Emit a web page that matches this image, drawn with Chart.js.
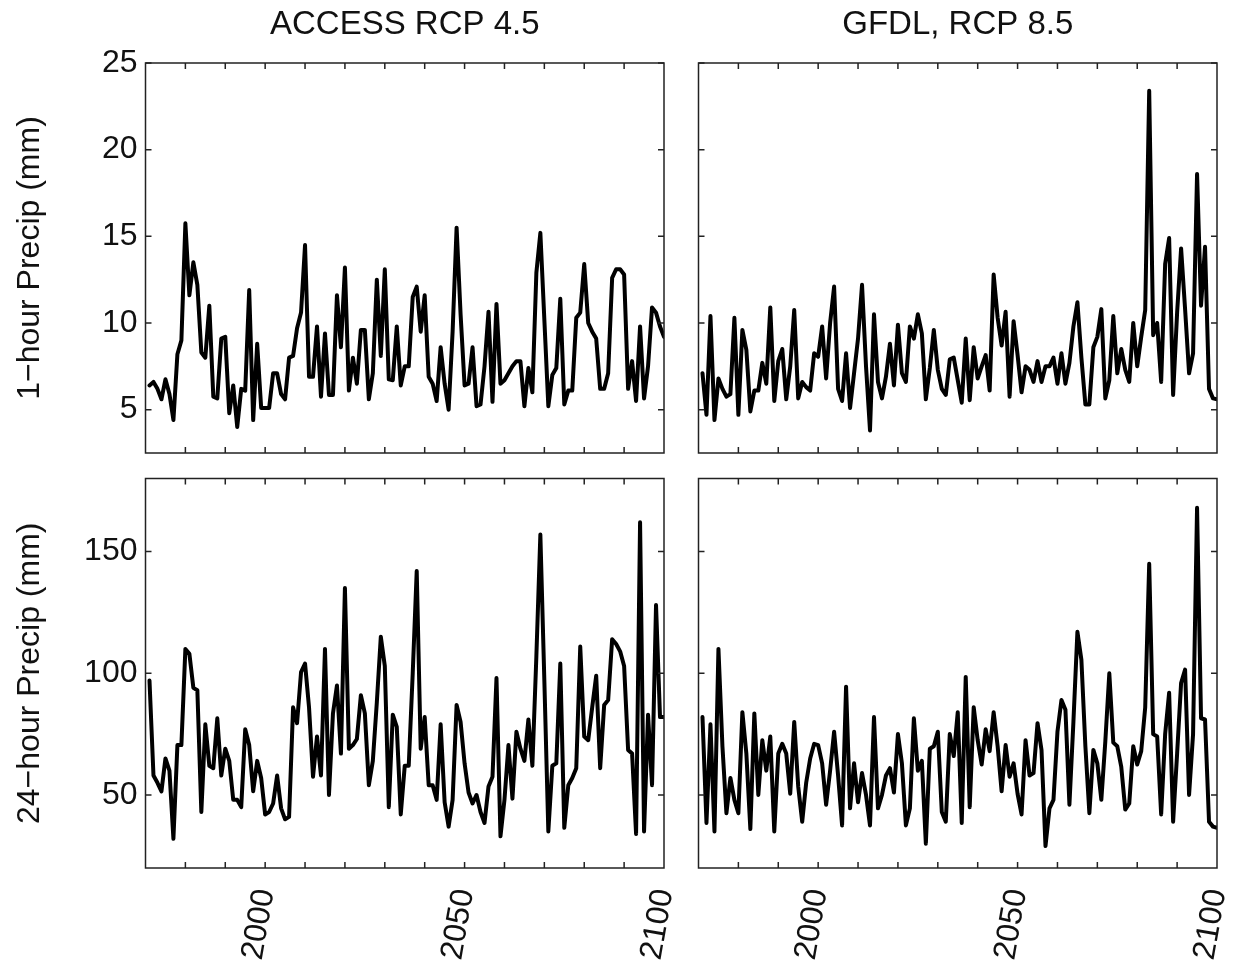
<!DOCTYPE html>
<html>
<head>
<meta charset="utf-8">
<script src="https://cdn.jsdelivr.net/npm/chart.js@4.4.1/dist/chart.umd.min.js"></script>
<style>
html, body { margin: 0; padding: 0; background: #ffffff; }
body { width: 1239px; height: 960px; position: relative; overflow: hidden; }
canvas { position: absolute; }
</style>
</head>
<body>
<canvas id="tl" width="680" height="465" style="left:0px;top:0px"></canvas>
<canvas id="tr" width="559" height="465" style="left:680px;top:0px"></canvas>
<canvas id="bl" width="680" height="495" style="left:0px;top:465px"></canvas>
<canvas id="br" width="559" height="495" style="left:680px;top:465px"></canvas>
<script>
// ---------- data ----------
const years = [
  1971,1972,1973,1974,1975,1976,1977,1978,1979,1980,
  1981,1982,1983,1984,1985,1986,1987,1988,1989,1990,
  1991,1992,1993,1994,1995,1996,1997,1998,1999,2000,
  2001,2002,2003,2004,2005,2006,2007,2008,2009,2010,
  2011,2012,2013,2014,2015,2016,2017,2018,2019,2020,
  2021,2022,2023,2024,2025,2026,2027,2028,2029,2030,
  2031,2032,2033,2034,2035,2036,2037,2038,2039,2040,
  2041,2042,2043,2044,2045,2046,2047,2048,2049,2050,
  2051,2052,2053,2054,2055,2056,2057,2058,2059,2060,
  2061,2062,2063,2064,2065,2066,2067,2068,2069,2070,
  2071,2072,2073,2074,2075,2076,2077,2078,2079,2080,
  2081,2082,2083,2084,2085,2086,2087,2088,2089,2090,
  2091,2092,2093,2094,2095,2096,2097,2098,2099,2100
];

const access1h = [
  6.4,6.6,6.2,5.6,6.75,5.9,4.4,8.2,9.0,15.75,
  11.6,13.5,12.2,8.3,8.0,11.0,5.75,5.65,9.1,9.2,
  4.8,6.4,4.0,6.2,6.1,11.9,4.4,8.8,5.1,5.1,
  5.1,7.1,7.1,5.9,5.6,8.0,8.1,9.7,10.6,14.5,
  6.9,6.9,9.8,5.75,9.4,5.85,5.85,11.6,8.6,13.2,
  6.1,8.0,6.5,9.6,9.6,5.6,7.1,12.5,8.1,13.1,
  6.75,6.7,9.8,6.4,7.5,7.5,11.5,12.1,9.5,11.6,
  6.9,6.5,5.5,8.6,6.5,5.0,9.5,15.5,10.5,6.4,
  6.5,8.6,5.2,5.3,7.5,10.65,5.45,11.1,6.5,6.7,
  7.1,7.5,7.8,7.8,5.2,7.4,6.0,12.9,15.2,10.2,
  5.2,7.0,7.4,11.4,5.3,6.1,6.1,10.3,10.6,13.4,
  10.0,9.5,9.1,6.2,6.2,7.1,12.6,13.1,13.1,12.8,
  6.2,7.8,5.5,9.8,5.65,7.5,10.9,10.6,9.8,9.2
];

const gfdl1h = [
  7.1,4.7,10.4,4.4,6.8,6.2,5.75,5.9,10.3,4.7,
  9.6,8.45,4.9,6.1,6.1,7.7,6.5,10.9,5.5,7.8,
  8.5,5.6,7.5,10.75,5.65,6.6,6.3,6.1,8.25,8.05,
  9.8,6.8,10.0,12.1,6.2,5.5,8.25,5.1,7.1,9.1,
  12.2,7.5,3.8,10.5,6.6,5.65,6.9,8.8,6.4,9.9,
  7.1,6.6,9.8,9.1,10.5,9.4,5.6,7.4,9.6,7.3,
  6.2,5.85,7.9,8.0,6.7,5.4,9.1,5.55,8.6,6.8,
  7.5,8.15,6.1,12.8,10.3,8.7,10.65,5.75,10.1,8.15,
  6.0,7.5,7.3,6.6,7.8,6.6,7.5,7.5,8.0,6.5,
  8.25,6.5,7.7,9.8,11.2,8.0,5.3,5.3,8.6,9.2,
  10.8,5.65,6.7,10.4,7.1,8.5,7.3,6.6,10.0,7.5,
  9.2,10.75,23.4,9.3,10.0,6.6,13.4,14.9,5.85,10.6,
  14.3,10.8,7.1,8.25,18.6,11.0,14.4,6.2,5.65,5.6
];

const access24h = [
  97,58,55,51.5,65,60,32,70.5,70.5,110,
  108,94,93,43,79,62,61,81.5,58,69,
  64,48,48,45,77,70.5,51.5,64,57,42,
  43,46.5,58,44.5,40,41,86,79.5,100.5,104,
  86,57.5,74,58,110,50,83.5,95,67,135,
  69,70.5,73,91,83.5,54,64,88,115,103,
  45,83,78,42,62,62,100,142,69,82,
  54,54,48,79,47,37,48,87,80,63,
  51,46.5,50,43,38.5,53.5,57.5,98,33,48,
  70.5,48.5,76,69,64,81,62,107,157,97,
  35,62,63,104,36.5,54,57,61,111,74,
  72.5,86,99,61,87,89,114,112,109,103,
  68.5,67,34,162,35,83,54,128,82,82
];

const gfdl24h = [
  82,38.5,79,35,110,70,42.5,57,48,42.5,
  84,67,36,83.5,50,72.5,60,74,35,67,
  71,67,50.5,80,53.5,39,55,65,71,70.5,
  63,46,60,76,58,37.5,94.5,44.5,63,47,
  59,50,37.5,82,44.5,50,58,61,51,75,
  63,37.5,44.5,81.5,60,64,30,69,70,76,
  43,39,75,66,84,38.5,98.5,45,86,72.5,
  62.5,77,68,84,70,51.5,70.5,57.5,63,50.5,
  42,72.5,58,59,79.5,68.5,29,44.5,48,76,
  89,85,46,80,117,105.5,70,42.5,68.5,63,
  48,72,100,71.5,70,61.5,44,46.5,70,62.5,
  68,86,145,75,74,42,75,92,39,67,
  96,101.5,50,75,168,81.5,81,39,37,36.5
];

const xLabelTicks = [2000, 2050, 2100];
const xMinorTicks = [1980, 1990, 2000, 2010, 2020, 2030, 2040, 2050, 2060, 2070, 2080, 2090];
const yTicks1h = [5, 10, 15, 20, 25];
const yTicks24h = [50, 100, 150];
const panelTitles = ['ACCESS RCP 4.5', 'GFDL, RCP 8.5'];
const yAxisTitles = ['1\u2212hour Precip (mm)', '24\u2212hour Precip (mm)'];

// ---------- drawing ----------
const FONT = "'Liberation Sans', Arial, Helvetica, sans-serif";
Chart.defaults.font.family = FONT;
Chart.defaults.color = '#111';

const framePlugin = {
  id: 'frame',
  afterDatasetsDraw(chart, args, opts) {
    const { ctx, chartArea: a, scales } = chart;
    const sx = scales.x, sy = scales.y;
    ctx.save();
    ctx.strokeStyle = '#222';
    ctx.lineWidth = 1.5;
    ctx.strokeRect(a.left, a.top, a.right - a.left, a.bottom - a.top);
    ctx.beginPath();
    const L = 6;
    opts.xTicks.forEach(v => {
      const px = sx.getPixelForValue(v);
      ctx.moveTo(px, a.bottom); ctx.lineTo(px, a.bottom - L);
      ctx.moveTo(px, a.top); ctx.lineTo(px, a.top + L);
    });
    opts.yTicks.forEach(v => {
      const py = sy.getPixelForValue(v);
      ctx.moveTo(a.left, py); ctx.lineTo(a.left + L, py);
      ctx.moveTo(a.right, py); ctx.lineTo(a.right - L, py);
    });
    ctx.stroke();
    ctx.restore();
  }
};

function makePanel(id, values, cfg) {
  new Chart(document.getElementById(id), {
    type: 'line',
    data: {
      datasets: [{
        data: years.map((yr, i) => ({ x: yr, y: values[i] })),
        borderColor: '#000',
        borderWidth: 4,
        pointRadius: 0,
        tension: 0,
        borderJoinStyle: 'round',
        borderCapStyle: 'round',
        fill: false
      }]
    },
    options: {
      responsive: false,
      animation: false,
      devicePixelRatio: 1,
      layout: { padding: cfg.padding },
      plugins: {
        legend: { display: false },
        tooltip: { enabled: false },
        title: cfg.title ? {
          display: true,
          text: cfg.title,
          fullSize: false,
          color: '#111',
          font: { family: FONT, size: 33, weight: 'normal' },
          padding: { top: 4.7, bottom: 18.7 }
        } : { display: false },
        frame: { xTicks: xMinorTicks, yTicks: cfg.yTicks }
      },
      scales: {
        x: {
          type: 'linear',
          min: 1970,
          max: 2100,
          grid: { display: false, drawTicks: false },
          border: { display: false },
          afterBuildTicks: s => { s.ticks = xLabelTicks.map(v => ({ value: v })); },
          ticks: {
            display: cfg.xLabels,
            autoSkip: false,
            minRotation: 80,
            maxRotation: 80,
            padding: 18,
            color: '#111',
            font: { family: FONT, size: 32 },
            callback: v => String(v)
          },
          afterFit: s => { s.height = cfg.xHeight; s.paddingLeft = 0; s.paddingRight = 0; }
        },
        y: {
          type: 'linear',
          min: cfg.yMin,
          max: cfg.yMax,
          grid: { display: false, drawTicks: false },
          border: { display: false },
          afterBuildTicks: s => { s.ticks = cfg.yTicks.map(v => ({ value: v })); },
          ticks: {
            display: cfg.yLabels,
            padding: 8,
            color: '#111',
            font: { family: FONT, size: 32 },
            callback: v => String(v)
          },
          title: {
            display: !!cfg.yTitle,
            text: cfg.yTitle || '',
            color: '#111',
            font: { family: FONT, size: 32 },
            padding: { top: 11, bottom: 0 }
          },
          afterFit: s => { s.width = cfg.yWidth; s.paddingTop = 0; s.paddingBottom = 0; }
        }
      }
    },
    plugins: [framePlugin]
  });
}

makePanel('tl', access1h, {
  title: panelTitles[0], yTitle: yAxisTitles[0], yLabels: true, xLabels: false,
  yMin: 2.5, yMax: 25, yTicks: yTicks1h, yWidth: 145.5, xHeight: 12,
  padding: { left: 0, right: 16, top: 0, bottom: 0 }
});
makePanel('tr', gfdl1h, {
  title: panelTitles[1], yTitle: null, yLabels: false, xLabels: false,
  yMin: 2.5, yMax: 25, yTicks: yTicks1h, yWidth: 18.5, xHeight: 12,
  padding: { left: 0, right: 22, top: 0, bottom: 0 }
});
makePanel('bl', access24h, {
  title: null, yTitle: yAxisTitles[1], yLabels: true, xLabels: true,
  yMin: 20, yMax: 180, yTicks: yTicks24h, yWidth: 145.5, xHeight: 92,
  padding: { left: 0, right: 16, top: 13.5, bottom: 0 }
});
makePanel('br', gfdl24h, {
  title: null, yTitle: null, yLabels: false, xLabels: true,
  yMin: 20, yMax: 180, yTicks: yTicks24h, yWidth: 18.5, xHeight: 92,
  padding: { left: 0, right: 22, top: 13.5, bottom: 0 }
});
</script>
</body>
</html>
